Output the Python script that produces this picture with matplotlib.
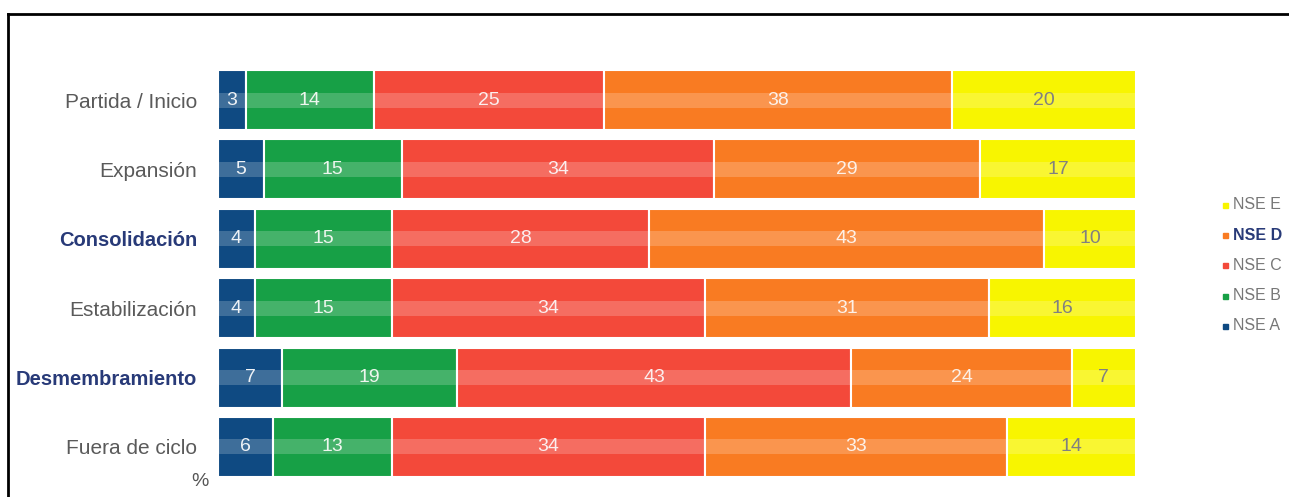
import matplotlib.pyplot as plt
from matplotlib.lines import Line2D
import numpy as np

plt.rcParams['font.family'] = ['Liberation Sans', 'DejaVu Sans']

etapas = ['Partida / Inicio', 'Expansión', 'Consolidación', 'Estabilización',
          'Desmembramiento', 'Fuera de ciclo']
nse_a = [3, 5, 4, 4, 7, 6]
nse_b = [14, 15, 15, 15, 19, 13]
nse_c = [25, 34, 28, 34, 43, 34]
nse_d = [38, 29, 43, 31, 24, 33]
nse_e = [20, 17, 10, 16, 7, 14]

series = [('NSE A', nse_a, '#0f4a82', '#eef2f6'),
          ('NSE B', nse_b, '#17a046', '#eef6ee'),
          ('NSE C', nse_c, '#f3493a', '#fbeeee'),
          ('NSE D', nse_d, '#f97b22', '#fdf1e8'),
          ('NSE E', nse_e, '#f8f500', '#808080')]

bold_rows = ['Consolidación', 'Desmembramiento']

W, H = 1289, 497
fig = plt.figure(figsize=(W / 100, H / 100), dpi=100)
ax = fig.add_axes([218 / W, 1 - 477 / H, (1136 - 218) / W, (477 - 70) / H])

y = np.arange(len(etapas))
bar_h = 0.865
left = np.zeros(len(etapas))
for name, vals, color, tcolor in series:
    vals = np.array(vals, dtype=float)
    ax.barh(y, vals, left=left, height=bar_h, color=color,
            edgecolor='white', linewidth=1.5)
    # glossy light band through the middle of each segment
    ax.barh(y, vals, left=left, height=bar_h * 0.25, color='white',
            alpha=0.2, linewidth=0)
    for yi, l, v in zip(y, left, vals):
        ax.text(l + v / 2, yi, str(int(v)), ha='center', va='center',
                color=tcolor, fontsize=14)
    left += vals

ax.set_xlim(0, 100)
ax.set_ylim(len(etapas) - 1 + bar_h / 2, -bar_h / 2)
ax.set_yticks(y)
ax.set_yticklabels(etapas)
for lab in ax.get_yticklabels():
    if lab.get_text() in bold_rows:
        lab.set_fontweight('bold')
        lab.set_color('#283a78')
        lab.set_fontsize(14.5)
    else:
        lab.set_color('#5a5a5a')
        lab.set_fontsize(15)
ax.tick_params(axis='y', length=0, pad=15)
ax.set_xticks([])
for s in ax.spines.values():
    s.set_visible(False)

fig.text(200 / W, 1 - 482 / H, '%', ha='center', va='center',
         fontsize=14, color='#555555')

# legend, listed top to bottom as in the picture
leg_y = [205, 235, 265, 296, 326]
for (name, vals, color, tcolor), py in zip(series[::-1], leg_y):
    fig.patches.append(plt.Rectangle((1223 / W, 1 - (py + 3) / H), 5 / W, 5 / H,
                                     color=color, transform=fig.transFigure))
    bold = name == 'NSE D'
    fig.text(1233 / W, 1 - py / H, name, ha='left', va='center', fontsize=11.5,
             color='#283a78' if bold else '#777777',
             fontweight='bold' if bold else 'normal')

# page frame
fig.add_artist(Line2D([8 / W, 8 / W], [0, 1 - 14 / H], color='black', lw=2,
                      transform=fig.transFigure))
fig.add_artist(Line2D([8 / W, 1], [1 - 14 / H, 1 - 14 / H], color='black', lw=2,
                      transform=fig.transFigure))

fig.savefig('out.png', dpi=100)
